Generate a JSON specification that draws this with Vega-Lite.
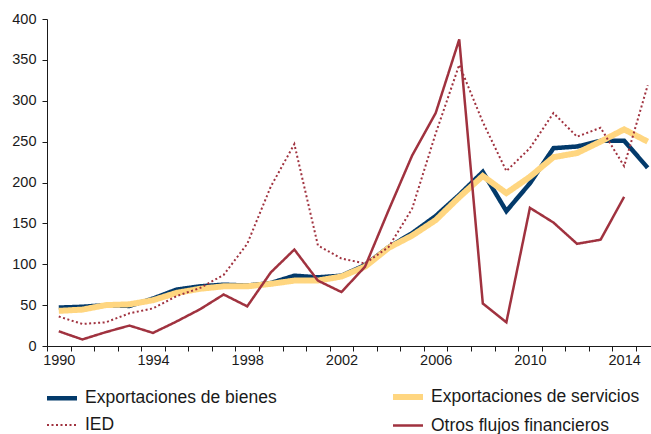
{
  "$schema": "https://vega.github.io/schema/vega-lite/v6.json",
  "autosize": {"type": "none"},
  "width": 604,
  "height": 327,
  "padding": {"left": 47, "top": 19, "right": 0, "bottom": 88},
  "background": "white",
  "config": {
    "view": {"stroke": null},
    "font": "Liberation Sans",
    "axis": {"labelFont": "Liberation Sans", "labelColor": "#1a1a1a", "domainColor": "#1a1a1a", "tickColor": "#1a1a1a", "grid": false, "title": null}
  },
  "data": {"values": [
    {"year": 1990, "serie": "Exportaciones de bienes", "v": 47},
    {"year": 1991, "serie": "Exportaciones de bienes", "v": 48},
    {"year": 1992, "serie": "Exportaciones de bienes", "v": 50},
    {"year": 1993, "serie": "Exportaciones de bienes", "v": 49},
    {"year": 1994, "serie": "Exportaciones de bienes", "v": 58},
    {"year": 1995, "serie": "Exportaciones de bienes", "v": 69},
    {"year": 1996, "serie": "Exportaciones de bienes", "v": 73},
    {"year": 1997, "serie": "Exportaciones de bienes", "v": 75},
    {"year": 1998, "serie": "Exportaciones de bienes", "v": 74},
    {"year": 1999, "serie": "Exportaciones de bienes", "v": 77},
    {"year": 2000, "serie": "Exportaciones de bienes", "v": 86},
    {"year": 2001, "serie": "Exportaciones de bienes", "v": 84},
    {"year": 2002, "serie": "Exportaciones de bienes", "v": 86},
    {"year": 2003, "serie": "Exportaciones de bienes", "v": 99},
    {"year": 2004, "serie": "Exportaciones de bienes", "v": 121},
    {"year": 2005, "serie": "Exportaciones de bienes", "v": 138},
    {"year": 2006, "serie": "Exportaciones de bienes", "v": 159},
    {"year": 2007, "serie": "Exportaciones de bienes", "v": 185},
    {"year": 2008, "serie": "Exportaciones de bienes", "v": 213},
    {"year": 2009, "serie": "Exportaciones de bienes", "v": 165},
    {"year": 2010, "serie": "Exportaciones de bienes", "v": 199},
    {"year": 2011, "serie": "Exportaciones de bienes", "v": 242},
    {"year": 2012, "serie": "Exportaciones de bienes", "v": 244},
    {"year": 2013, "serie": "Exportaciones de bienes", "v": 251},
    {"year": 2014, "serie": "Exportaciones de bienes", "v": 251},
    {"year": 2015, "serie": "Exportaciones de bienes", "v": 218},
    {"year": 1990, "serie": "Exportaciones de servicios", "v": 43},
    {"year": 1991, "serie": "Exportaciones de servicios", "v": 44.5},
    {"year": 1992, "serie": "Exportaciones de servicios", "v": 50},
    {"year": 1993, "serie": "Exportaciones de servicios", "v": 51},
    {"year": 1994, "serie": "Exportaciones de servicios", "v": 56},
    {"year": 1995, "serie": "Exportaciones de servicios", "v": 65},
    {"year": 1996, "serie": "Exportaciones de servicios", "v": 70},
    {"year": 1997, "serie": "Exportaciones de servicios", "v": 73},
    {"year": 1998, "serie": "Exportaciones de servicios", "v": 73},
    {"year": 1999, "serie": "Exportaciones de servicios", "v": 76},
    {"year": 2000, "serie": "Exportaciones de servicios", "v": 80},
    {"year": 2001, "serie": "Exportaciones de servicios", "v": 80},
    {"year": 2002, "serie": "Exportaciones de servicios", "v": 85},
    {"year": 2003, "serie": "Exportaciones de servicios", "v": 97},
    {"year": 2004, "serie": "Exportaciones de servicios", "v": 120},
    {"year": 2005, "serie": "Exportaciones de servicios", "v": 135},
    {"year": 2006, "serie": "Exportaciones de servicios", "v": 154},
    {"year": 2007, "serie": "Exportaciones de servicios", "v": 182},
    {"year": 2008, "serie": "Exportaciones de servicios", "v": 208},
    {"year": 2009, "serie": "Exportaciones de servicios", "v": 187},
    {"year": 2010, "serie": "Exportaciones de servicios", "v": 207},
    {"year": 2011, "serie": "Exportaciones de servicios", "v": 231},
    {"year": 2012, "serie": "Exportaciones de servicios", "v": 236},
    {"year": 2013, "serie": "Exportaciones de servicios", "v": 250},
    {"year": 2014, "serie": "Exportaciones de servicios", "v": 265},
    {"year": 2015, "serie": "Exportaciones de servicios", "v": 250},
    {"year": 1990, "serie": "IED", "v": 36},
    {"year": 1991, "serie": "IED", "v": 27},
    {"year": 1992, "serie": "IED", "v": 29},
    {"year": 1993, "serie": "IED", "v": 40},
    {"year": 1994, "serie": "IED", "v": 46},
    {"year": 1995, "serie": "IED", "v": 61},
    {"year": 1996, "serie": "IED", "v": 71},
    {"year": 1997, "serie": "IED", "v": 87},
    {"year": 1998, "serie": "IED", "v": 125},
    {"year": 1999, "serie": "IED", "v": 195},
    {"year": 2000, "serie": "IED", "v": 247},
    {"year": 2001, "serie": "IED", "v": 123},
    {"year": 2002, "serie": "IED", "v": 107},
    {"year": 2003, "serie": "IED", "v": 101},
    {"year": 2004, "serie": "IED", "v": 121},
    {"year": 2005, "serie": "IED", "v": 168},
    {"year": 2006, "serie": "IED", "v": 260},
    {"year": 2007, "serie": "IED", "v": 344},
    {"year": 2008, "serie": "IED", "v": 274},
    {"year": 2009, "serie": "IED", "v": 214},
    {"year": 2010, "serie": "IED", "v": 242},
    {"year": 2011, "serie": "IED", "v": 285},
    {"year": 2012, "serie": "IED", "v": 256},
    {"year": 2013, "serie": "IED", "v": 267},
    {"year": 2014, "serie": "IED", "v": 220},
    {"year": 2015, "serie": "IED", "v": 319},
    {"year": 1990, "serie": "Otros flujos financieros", "v": 18},
    {"year": 1991, "serie": "Otros flujos financieros", "v": 8},
    {"year": 1992, "serie": "Otros flujos financieros", "v": 17},
    {"year": 1993, "serie": "Otros flujos financieros", "v": 25},
    {"year": 1994, "serie": "Otros flujos financieros", "v": 16},
    {"year": 1995, "serie": "Otros flujos financieros", "v": 30},
    {"year": 1996, "serie": "Otros flujos financieros", "v": 45},
    {"year": 1997, "serie": "Otros flujos financieros", "v": 63},
    {"year": 1998, "serie": "Otros flujos financieros", "v": 48.5},
    {"year": 1999, "serie": "Otros flujos financieros", "v": 90},
    {"year": 2000, "serie": "Otros flujos financieros", "v": 118},
    {"year": 2001, "serie": "Otros flujos financieros", "v": 80},
    {"year": 2002, "serie": "Otros flujos financieros", "v": 66},
    {"year": 2003, "serie": "Otros flujos financieros", "v": 97},
    {"year": 2004, "serie": "Otros flujos financieros", "v": 166},
    {"year": 2005, "serie": "Otros flujos financieros", "v": 233},
    {"year": 2006, "serie": "Otros flujos financieros", "v": 285},
    {"year": 2007, "serie": "Otros flujos financieros", "v": 375},
    {"year": 2008, "serie": "Otros flujos financieros", "v": 52},
    {"year": 2009, "serie": "Otros flujos financieros", "v": 29},
    {"year": 2010, "serie": "Otros flujos financieros", "v": 169},
    {"year": 2011, "serie": "Otros flujos financieros", "v": 151},
    {"year": 2012, "serie": "Otros flujos financieros", "v": 125},
    {"year": 2013, "serie": "Otros flujos financieros", "v": 130},
    {"year": 2014, "serie": "Otros flujos financieros", "v": 182.5}
  ]},
  "mark": {"type": "line", "strokeJoin": "miter", "strokeCap": "butt"},
  "encoding": {
    "x": {
      "field": "year", "type": "quantitative",
      "scale": {"domain": [1989.5, 2015.14], "nice": false, "zero": false},
      "axis": {
        "values": [1990,1991,1992,1993,1994,1995,1996,1997,1998,1999,2000,2001,2002,2003,2004,2005,2006,2007,2008,2009,2010,2011,2012,2013,2014,2015],
        "tickOffset": -11.78, "labelOffset": 11.78,
        "labelExpr": "datum.value % 4 == 2 ? '' + datum.value : ''",
        "labelOverlap": false, "labelFlush": false,
        "tickSize": 5, "labelPadding": 2, "labelFontSize": 14.5
      }
    },
    "y": {
      "field": "v", "type": "quantitative",
      "scale": {"domain": [0, 400], "nice": false},
      "axis": {"values": [0,50,100,150,200,250,300,350,400], "tickSize": 5, "labelPadding": 6, "labelFontSize": 14.5}
    },
    "color": {
      "field": "serie", "type": "nominal",
      "scale": {"domain": ["Exportaciones de bienes", "Exportaciones de servicios", "IED", "Otros flujos financieros"], "range": ["#033a6b", "#ffd680", "#a0323f", "#a0323f"]},
      "legend": {
        "title": null, "orient": "none", "legendX": -3, "legendY": 360, "direction": "horizontal",
        "columns": 2, "columnPadding": 104, "rowPadding": -5,
        "symbolType": "stroke", "symbolSize": 900, "labelFontSize": 17.5, "labelFont": "Liberation Sans",
        "labelColor": "#1a1a1a", "labelOffset": 5, "labelLimit": 400
      }
    },
    "strokeDash": {
      "field": "serie", "type": "nominal",
      "scale": {"domain": ["Exportaciones de bienes", "Exportaciones de servicios", "IED", "Otros flujos financieros"], "range": [[1, 0], [1, 0], [2, 2.5], [1, 0]]},
      "legend": null
    },
    "strokeWidth": {
      "field": "serie", "type": "nominal",
      "scale": {"type": "ordinal", "domain": ["Exportaciones de bienes", "Exportaciones de servicios", "IED", "Otros flujos financieros"], "range": [4.5, 6, 2, 2.5]},
      "legend": null
    }
  }
}
